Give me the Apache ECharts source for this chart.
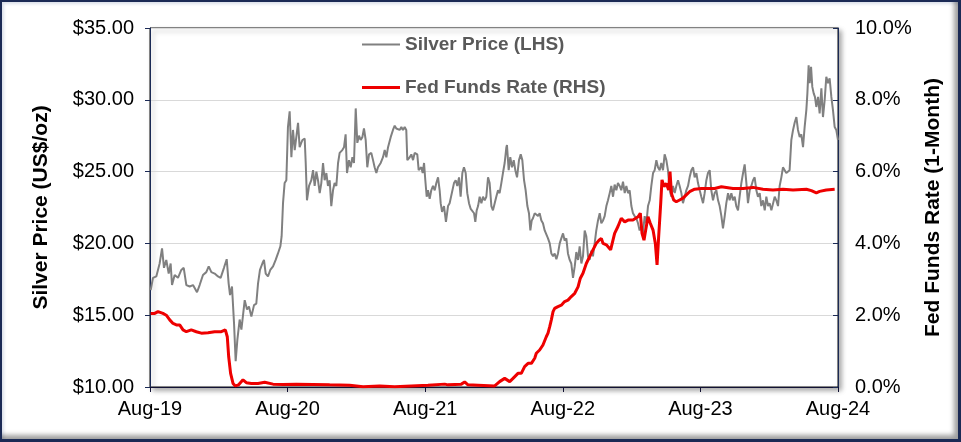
<!DOCTYPE html>
<html>
<head>
<meta charset="utf-8">
<script src="https://cdn.jsdelivr.net/npm/echarts@6/dist/echarts.min.js"></script>
<style>
  html, body { margin: 0; padding: 0; background: #fff; }
  #wrap { position: relative; width: 961px; height: 442px; }
  #chart { width: 961px; height: 442px; }
  #frame {
    position: absolute; left: 0; top: 0; width: 961px; height: 442px;
    box-sizing: border-box; border-style: solid; border-color: #1b2a55;
    border-width: 2px 3px 3px 2px;
    box-shadow: inset -6px -6px 5px -2px rgba(0,0,0,0.38), inset 2px 2px 3px rgba(110,130,170,0.25);
    pointer-events: none;
  }
</style>
</head>
<body>
<div id="wrap">
  <div id="chart"></div>
  <div id="frame"></div>
</div>
<script>
// X positions are months since Aug-2019
const xTickLabels = ['Aug-19', 'Aug-20', 'Aug-21', 'Aug-22', 'Aug-23', 'Aug-24'];
const leftTicks = [10, 15, 20, 25, 30, 35];
const rightTicks = [0, 2, 4, 6, 8, 10];

const silverName = 'Silver Price (LHS)';
const fedName = 'Fed Funds Rate (RHS)';

const silverMonths = [
  0.06,0.26,0.55,0.84,1.05,1.22,1.42,1.63,1.80,1.92,2.15,2.44,2.73,2.94,3.17,3.46,3.75,4.10,4.33,4.62,4.91,5.12,5.35,5.64,5.93,6.16,6.45,6.69,6.86,6.98,7.15,7.33,7.47,7.62,7.82,7.97,8.26,8.46,8.63,8.84,9.07,9.27,9.42,9.59,9.80,9.94,
  10.09,10.29,10.49,10.73,10.96,11.16,11.37,11.48,11.60,11.74,11.89,12.03,12.18,12.33,12.47,12.62,12.76,12.91,13.05,13.29,13.49,13.58,13.69,13.87,14.07,14.22,14.36,14.51,14.65,14.80,14.94,15.09,15.23,15.38,15.52,15.67,15.81,15.96,16.10,16.25,16.40,16.54,16.77,16.92,17.06,17.18,17.35,17.50,17.65,17.79,17.94,18.08,18.23,18.37,18.52,18.66,18.81,18.95,19.10,19.30,19.45,19.59,19.74,19.88,
  20.12,20.32,20.47,20.61,20.76,20.99,21.19,21.34,21.48,21.63,21.77,21.92,22.06,22.21,22.35,22.44,22.65,22.79,22.94,23.08,23.31,23.43,23.66,23.78,23.90,24.01,24.13,24.24,24.39,24.53,24.68,24.83,24.97,25.12,25.26,25.35,25.47,25.64,25.81,25.99,26.13,26.28,26.51,26.66,26.80,26.95,27.09,27.24,27.38,27.53,27.67,27.82,27.97,28.11,28.26,28.37,28.49,28.61,28.75,28.90,29.04,29.19,29.33,29.48,29.62,29.77,29.91,
  30.06,30.20,30.35,30.49,30.64,30.78,30.93,31.08,31.13,31.28,31.42,31.57,31.72,31.86,32.01,32.18,32.33,32.47,32.62,32.76,32.91,33.05,33.17,33.29,33.40,33.55,33.69,33.84,33.98,34.13,34.27,34.42,34.56,34.71,34.86,35.00,35.15,35.29,35.44,35.58,35.73,35.87,36.02,36.16,36.31,36.45,36.60,36.74,36.89,37.04,37.18,37.33,37.47,37.62,37.76,37.91,38.05,38.20,38.34,38.49,38.63,38.78,38.92,39.07,39.22,39.36,39.51,39.65,39.80,39.94,
  40.09,40.23,40.38,40.52,40.67,40.81,40.96,41.10,41.25,41.40,41.54,41.69,41.83,41.98,42.12,42.27,42.41,42.56,42.70,42.85,42.99,43.14,43.29,43.43,43.58,43.72,43.87,44.01,44.16,44.30,44.45,44.59,44.74,44.88,45.03,45.17,45.32,45.47,45.61,45.76,45.90,46.05,46.19,46.34,46.48,46.63,46.77,46.92,47.06,47.21,47.36,47.50,47.65,47.79,47.94,48.08,48.23,48.37,48.52,48.66,48.81,48.95,49.10,49.24,49.39,49.54,49.68,49.83,49.97,
  50.12,50.26,50.41,50.55,50.70,50.84,50.99,51.13,51.28,51.42,51.57,51.72,51.86,52.01,52.15,52.30,52.44,52.59,52.73,52.88,53.02,53.17,53.31,53.46,53.61,53.75,53.90,54.04,54.19,54.33,54.48,54.62,54.77,54.91,55.06,55.20,55.35,55.49,55.64,55.78,55.93,56.08,56.22,56.37,56.51,56.66,56.80,56.95,57.09,57.24,57.33,57.44,57.53,57.65,57.76,57.88,57.99,58.11,58.26,58.40,58.55,58.69,58.84,58.98,59.13,59.27,59.42,59.56,59.71,59.85,60.00
];
const silverPrices = [
  16.75,17.6,17.7,18.6,19.65,18.3,18.85,17.9,18.6,17.1,17.8,17.6,18.15,18.3,17.1,17.0,17.1,16.6,17.1,17.8,18.0,18.4,18.0,17.9,17.7,17.6,18.3,18.9,17.2,16.4,17.0,14.4,11.8,13.3,14.7,14.0,16.05,15.4,15.6,14.9,15.7,15.8,17.2,18.15,18.6,18.85,
  17.9,17.7,18.15,18.4,18.85,19.3,19.8,20.5,22.8,24.2,24.4,28.1,29.2,26.0,27.9,26.5,27.4,28.4,26.7,27.2,27.3,25.6,23.0,24.0,24.4,25.1,24.0,25.0,24.4,23.5,24.2,25.6,24.4,24.9,24.0,24.4,22.6,23.7,24.2,24.0,25.6,26.3,26.5,26.7,27.6,24.9,25.8,25.3,26.0,25.6,29.4,27.0,27.5,27.2,27.4,28.0,27.2,25.3,26.2,26.3,25.8,25.3,24.9,25.3,
  25.6,26.0,26.5,26.0,26.7,27.4,27.9,28.2,28.0,28.1,27.9,28.1,27.9,28.1,27.9,25.8,26.0,26.2,25.8,26.3,26.2,25.1,25.3,24.9,25.6,24.4,23.25,23.7,23.1,23.7,24.0,23.7,24.2,24.6,23.7,22.8,22.2,22.6,21.5,22.6,22.8,22.7,24.2,24.4,24.0,24.6,23.25,24.9,25.3,24.9,23.5,22.8,22.4,22.3,22.1,21.5,22.3,22.6,23.25,22.8,23.25,23.0,23.25,24.6,24.2,22.6,22.3,
  22.8,23.25,23.7,23.5,24.2,24.9,25.6,26.7,26.85,25.1,26.0,25.3,25.8,25.1,24.6,25.8,26.2,25.8,24.4,23.7,22.6,22.1,20.9,21.6,21.75,22.1,22.2,21.9,22.1,21.6,21.4,20.9,20.9,20.35,20.0,19.3,19.1,19.3,18.9,19.3,20.0,20.35,20.7,20.2,20.35,19.3,18.85,18.6,17.6,18.4,19.4,18.85,19.8,18.6,19.1,20.9,20.5,19.1,18.85,19.5,19.1,20.0,20.9,21.6,22.1,21.4,21.6,21.9,22.6,23.0,
  23.5,24.0,23.25,24.1,23.7,24.2,24.0,23.7,24.3,23.5,24.0,23.5,23.7,22.6,22.1,21.9,21.75,21.4,20.9,21.2,20.7,21.9,21.4,22.6,23.0,24.0,24.9,25.1,25.8,25.3,25.1,25.6,25.1,26.2,25.8,25.1,23.7,23.25,24.0,23.5,24.0,24.4,24.0,23.5,22.8,23.25,23.7,24.0,24.6,25.1,25.3,24.6,24.9,24.2,23.7,23.25,22.8,23.5,24.4,24.9,25.1,23.7,23.0,23.5,23.7,23.0,22.6,21.9,21.05,
  21.9,22.8,23.5,23.0,23.5,23.0,23.25,22.6,22.3,23.25,24.2,24.9,25.5,24.2,22.8,23.7,24.0,24.4,24.6,23.7,23.25,23.5,22.6,23.0,22.3,23.25,22.6,22.8,22.3,22.2,23.25,23.0,22.6,24.0,24.6,25.3,25.1,24.9,24.8,25.1,27.2,27.9,28.4,28.8,27.9,27.4,27.6,26.7,28.1,29.3,30.45,32.4,31.15,32.3,30.9,30.45,30.2,29.5,30.2,29.05,30.8,28.8,30.0,31.6,31.15,31.5,30.2,29.3,28.1,27.9,27.2
];

const fedMonths = [
  0.06,0.41,0.70,1.13,1.42,1.72,2.01,2.30,2.59,2.88,3.17,3.60,4.04,4.48,5.06,5.64,6.22,6.57,6.74,6.86,7.03,7.24,7.44,7.73,8.11,8.40,8.84,9.42,10.00,
  10.73,11.60,12.76,14.22,15.67,17.41,18.58,20.03,
  21.34,22.79,24.24,25.70,25.84,25.99,27.15,27.44,27.73,28.61,30.06,
  30.49,30.93,31.37,31.66,32.09,32.38,32.67,32.97,33.26,33.55,33.69,33.98,34.27,34.42,34.56,34.71,34.86,35.00,35.15,35.29,35.58,35.87,36.16,36.45,36.74,37.04,37.33,37.53,37.76,38.05,38.34,38.63,38.92,39.16,39.36,39.51,39.80,
  39.94,40.17,40.29,40.52,40.81,41.10,41.40,41.69,42.12,42.56,42.76,42.91,43.08,43.23,43.43,43.63,43.87,44.07,44.22,44.36,44.54,44.65,44.83,45.03,45.23,45.35,45.47,45.67,45.90,46.19,46.48,46.77,47.06,47.50,48.08,48.66,49.24,49.83,
  50.84,51.72,52.59,53.46,54.33,55.20,56.08,57.24,57.68,58.11,58.40,58.98,59.71
];
const fedRates = [
  2.05,2.05,2.1,2.05,2.0,1.87,1.77,1.73,1.73,1.59,1.54,1.59,1.54,1.5,1.51,1.54,1.54,1.59,1.4,0.85,0.38,0.1,0.03,0.06,0.2,0.12,0.1,0.1,0.13,
  0.08,0.07,0.08,0.07,0.06,0.05,0.01,0.03,
  0.01,0.03,0.05,0.08,0.12,0.06,0.08,0.14,0.06,0.05,0.03,
  0.15,0.24,0.15,0.24,0.38,0.38,0.57,0.66,0.66,0.8,0.94,1.03,1.17,1.12,1.4,1.5,1.68,1.87,2.1,2.19,2.24,2.28,2.38,2.42,2.52,2.61,2.79,3.03,3.17,3.44,3.63,3.82,4.0,4.09,4.14,4.0,3.96,
  4.0,3.82,3.86,4.28,4.47,4.7,4.6,4.65,4.65,4.74,4.84,4.28,4.09,4.37,4.74,4.56,4.37,4.0,3.4,4.19,5.12,5.77,5.58,5.67,5.49,6.0,5.4,5.21,5.16,5.21,5.26,5.35,5.44,5.51,5.53,5.53,5.53,5.58,
  5.53,5.53,5.56,5.51,5.49,5.51,5.49,5.51,5.47,5.41,5.45,5.49,5.51
];

const silverData = silverMonths.map((m, i) => [m, silverPrices[i]]);
const fedData = fedMonths.map((m, i) => [m, fedRates[i]]);

const FONT = '"Liberation Sans", Arial, sans-serif';
const NAVY = '#1b2a55';

const chart = echarts.init(document.getElementById('chart'), null, { renderer: 'canvas' });
chart.setOption({
  animation: false,
  backgroundColor: '#ffffff',
  textStyle: { fontFamily: FONT },
  grid: {
    left: 150, right: 123, top: 28, bottom: 55,
    show: true, backgroundColor: '#ffffff',
    borderColor: '#111111', borderWidth: 1,
    shadowColor: 'rgba(0,0,0,0.35)', shadowBlur: 5, shadowOffsetX: 3, shadowOffsetY: 3
  },
  legend: [
    {
      data: [silverName], left: 362, top: 35, padding: 0,
      orient: 'vertical', icon: 'rect', itemWidth: 38, itemHeight: 2,
      itemStyle: { color: '#808080' },
      textStyle: { fontFamily: FONT, fontSize: 19, fontWeight: 'bold', color: '#595959' },
      selectedMode: false
    },
    {
      data: [fedName], left: 362, top: 78, padding: 0,
      orient: 'vertical', icon: 'rect', itemWidth: 38, itemHeight: 3,
      itemStyle: { color: '#ee0000' },
      textStyle: { fontFamily: FONT, fontSize: 19, fontWeight: 'bold', color: '#595959' },
      selectedMode: false
    }
  ],
  xAxis: {
    type: 'value', min: 0, max: 60, interval: 12,
    axisLine: { show: true, lineStyle: { color: '#111133', width: 1 } },
    axisTick: { show: true, inside: false, length: 5, lineStyle: { color: '#111133' } },
    axisLabel: {
      margin: 12, fontSize: 20, color: '#000', fontFamily: FONT,
      formatter: v => xTickLabels[Math.round(v / 12)]
    },
    splitLine: { show: false }
  },
  yAxis: [
    {
      type: 'value', min: leftTicks[0], max: leftTicks[leftTicks.length - 1], interval: 5,
      position: 'left',
      name: 'Silver Price (US$/oz)', nameLocation: 'middle', nameRotate: 90, nameGap: 98,
      nameTextStyle: { fontFamily: FONT, fontSize: 21, fontWeight: 'bold', color: '#000' },
      axisLine: { show: true, lineStyle: { color: NAVY, width: 1 } },
      axisTick: { show: true, inside: false, length: 5, lineStyle: { color: NAVY } },
      axisLabel: { margin: 16, fontSize: 20, color: '#000', fontFamily: FONT, formatter: v => '$' + v.toFixed(2) },
      splitLine: { show: true, lineStyle: { color: '#d9d9d9', width: 1 } }
    },
    {
      type: 'value', min: rightTicks[0], max: rightTicks[rightTicks.length - 1], interval: 2,
      position: 'right',
      name: 'Fed Funds Rate (1-Month)', nameLocation: 'middle', nameRotate: 90, nameGap: 81,
      nameTextStyle: { fontFamily: FONT, fontSize: 21, fontWeight: 'bold', color: '#000' },
      axisLine: { show: true, lineStyle: { color: NAVY, width: 1 } },
      axisTick: { show: true, inside: true, length: 5, lineStyle: { color: NAVY } },
      axisLabel: { margin: 17, fontSize: 20, color: '#000', fontFamily: FONT, formatter: v => v.toFixed(1) + '%' },
      splitLine: { show: false }
    }
  ],
  series: [
    {
      name: silverName, type: 'line', yAxisIndex: 0, data: silverData,
      showSymbol: false, symbol: 'none',
      lineStyle: { color: '#808080', width: 2 },
      itemStyle: { color: '#808080' },
      z: 2
    },
    {
      name: fedName, type: 'line', yAxisIndex: 1, data: fedData,
      showSymbol: false, symbol: 'none',
      lineStyle: { color: '#ee0000', width: 3 },
      itemStyle: { color: '#ee0000' },
      z: 3
    }
  ]
});
</script>
</body>
</html>
